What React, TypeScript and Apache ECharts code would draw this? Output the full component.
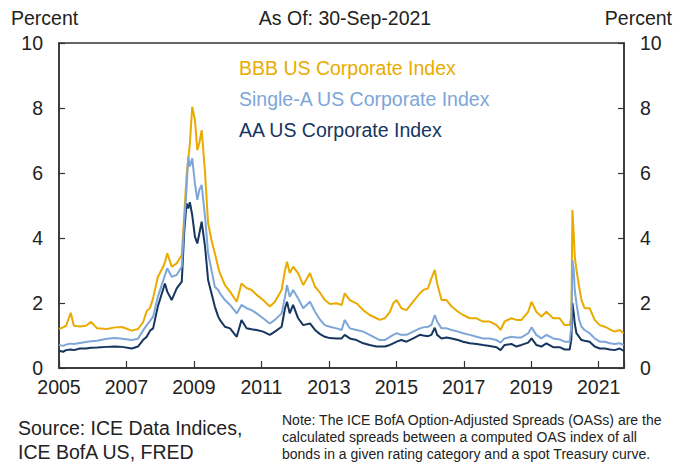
import React, { useEffect, useRef } from "react";
import * as echarts from "echarts";

const dates = [
  2005.00, 2005.12, 2005.21, 2005.35, 2005.44, 2005.62, 2005.80, 2005.95, 2006.13, 2006.42,
  2006.66, 2006.87, 2007.16, 2007.34, 2007.49, 2007.60, 2007.70, 2007.79, 2007.93, 2008.08,
  2008.14, 2008.21, 2008.34, 2008.49, 2008.64, 2008.71, 2008.78, 2008.83, 2008.88, 2008.95,
  2009.03, 2009.10, 2009.16, 2009.23, 2009.33, 2009.42, 2009.52, 2009.62, 2009.72, 2009.77,
  2009.92, 2010.07, 2010.27, 2010.41, 2010.56, 2010.71, 2010.86, 2011.05, 2011.25, 2011.40,
  2011.60, 2011.70, 2011.76, 2011.84, 2011.94, 2012.09, 2012.24, 2012.44, 2012.59, 2012.73,
  2012.88, 2013.03, 2013.23, 2013.38, 2013.47, 2013.62, 2013.82, 2014.02, 2014.21, 2014.41,
  2014.51, 2014.66, 2014.81, 2014.91, 2015.01, 2015.15, 2015.30, 2015.50, 2015.70, 2015.80,
  2015.94, 2016.04, 2016.14, 2016.21, 2016.34, 2016.49, 2016.64, 2016.83, 2016.98, 2017.18,
  2017.38, 2017.57, 2017.77, 2017.97, 2018.09, 2018.21, 2018.41, 2018.56, 2018.71, 2018.91,
  2019.01, 2019.15, 2019.30, 2019.45, 2019.65, 2019.84, 2019.99, 2020.14, 2020.19, 2020.22,
  2020.26, 2020.29, 2020.34, 2020.42, 2020.49, 2020.58, 2020.73, 2020.88, 2021.03, 2021.18,
  2021.33, 2021.47, 2021.62, 2021.74,
];

const bbb = [
  1.20, 1.25, 1.30, 1.70, 1.30, 1.28, 1.30, 1.42, 1.22, 1.20,
  1.25, 1.26, 1.15, 1.20, 1.40, 1.75, 1.85, 2.15, 2.80, 3.10,
  3.25, 3.53, 3.12, 3.22, 3.48, 4.66, 5.89, 6.40, 6.92, 8.04,
  7.63, 6.70, 6.92, 7.32, 6.00, 4.46, 3.94, 3.53, 3.10, 2.92,
  2.55, 2.35, 2.04, 2.60, 2.46, 2.40, 2.25, 2.09, 1.89, 2.04,
  2.40, 3.00, 3.27, 2.92, 3.12, 2.92, 2.55, 2.92, 2.50, 2.33,
  2.09, 1.97, 1.99, 1.94, 2.30, 2.09, 1.99, 1.78, 1.63, 1.53,
  1.48, 1.53, 1.73, 1.99, 2.09, 1.84, 1.78, 2.04, 2.30, 2.40,
  2.45, 2.76, 3.02, 2.60, 2.09, 2.09, 1.89, 1.73, 1.63, 1.53,
  1.53, 1.43, 1.43, 1.32, 1.17, 1.43, 1.53, 1.48, 1.48, 1.73,
  2.04, 1.73, 1.58, 1.73, 1.53, 1.53, 1.32, 1.32, 1.58, 4.86,
  4.14, 3.43, 3.02, 2.50, 2.09, 1.84, 1.84, 1.48, 1.32, 1.27,
  1.19, 1.12, 1.17, 1.07,
];

const singleA = [
  0.71, 0.68, 0.72, 0.75, 0.74, 0.77, 0.80, 0.82, 0.84, 0.90,
  0.92, 0.90, 0.86, 0.90, 1.15, 1.32, 1.45, 1.58, 2.19, 2.66,
  2.85, 3.07, 2.81, 2.86, 3.12, 4.45, 5.48, 6.50, 6.20, 6.45,
  5.68, 5.17, 5.48, 5.63, 4.66, 3.53, 3.02, 2.50, 2.40, 2.30,
  2.09, 1.94, 1.68, 1.94, 1.84, 1.78, 1.68, 1.53, 1.37, 1.48,
  1.68, 2.19, 2.55, 2.19, 2.40, 2.14, 1.84, 2.04, 1.73, 1.50,
  1.32, 1.27, 1.22, 1.17, 1.48, 1.22, 1.17, 1.12, 1.02, 0.91,
  0.86, 0.86, 0.96, 1.02, 1.07, 1.02, 1.02, 1.12, 1.22, 1.25,
  1.27, 1.32, 1.63, 1.43, 1.22, 1.22, 1.17, 1.12, 1.07, 1.02,
  0.96, 0.91, 0.91, 0.86, 0.78, 0.91, 0.96, 0.94, 0.94, 1.07,
  1.25, 1.02, 0.91, 1.02, 0.91, 0.88, 0.81, 0.81, 1.30, 3.32,
  3.02, 2.40, 1.99, 1.48, 1.27, 1.17, 1.07, 0.91, 0.81, 0.81,
  0.76, 0.74, 0.76, 0.71,
];

const aa = [
  0.53, 0.50, 0.55, 0.57, 0.55, 0.60, 0.60, 0.62, 0.63, 0.65,
  0.66, 0.65, 0.60, 0.66, 0.86, 0.96, 1.15, 1.22, 1.89, 2.40,
  2.60, 2.35, 2.09, 2.45, 2.66, 4.14, 5.07, 4.91, 5.10, 4.70,
  4.04, 3.83, 4.14, 4.50, 3.73, 2.71, 2.30, 1.89, 1.58, 1.48,
  1.27, 1.22, 0.96, 1.48, 1.22, 1.19, 1.17, 1.12, 1.02, 1.12,
  1.27, 1.84, 2.04, 1.68, 1.94, 1.53, 1.32, 1.37, 1.17, 1.05,
  0.96, 0.92, 0.91, 0.91, 1.02, 0.91, 0.86, 0.76, 0.71, 0.66,
  0.66, 0.66, 0.71, 0.76, 0.81, 0.86, 0.81, 0.91, 1.02, 1.00,
  0.98, 1.02, 1.24, 1.02, 0.91, 0.94, 0.91, 0.86, 0.81, 0.76,
  0.74, 0.71, 0.68, 0.64, 0.55, 0.71, 0.74, 0.66, 0.71, 0.78,
  0.91, 0.71, 0.66, 0.76, 0.64, 0.64, 0.57, 0.57, 0.90, 2.00,
  1.68, 1.37, 1.07, 0.96, 0.86, 0.84, 0.81, 0.66, 0.60, 0.60,
  0.57, 0.55, 0.60, 0.53,
];

const seriesNames = ["BBB US Corporate Index", "Single-A US Corporate Index", "AA US Corporate Index"];
const seriesColors = ["#E9AB00", "#7EA6D8", "#16365F"];
const yMin = 0;
const yMax = 10;
const yStep = 2;
const startYear = 2005;
const endYear = 2021.75;
const yearStep = 2;
const asOfText = "As Of: 30-Sep-2021";
const unitText = "Percent";
const sourceLines = ["Source: ICE Data Indices,", "ICE BofA US, FRED"];
const noteLines = [
  "Note: The ICE BofA Option-Adjusted Spreads (OASs) are the",
  "calculated spreads between a computed OAS index of all",
  "bonds in a given rating category and a spot Treasury curve.",
];

const FONT = "'Liberation Sans', Arial, Helvetica, sans-serif";
const TXT = "#222222";
const AXIS = "#333333";

export default function App() {
  const ref = useRef<HTMLDivElement>(null);
  useEffect(() => {
    const chart = echarts.init(ref.current!, null, { renderer: "svg" });
    const pts = (vals: number[]) => dates.map((d, i) => [d - startYear, vals[i]]);
    const yAxisBase = (pos: "left" | "right") => ({
      type: "value",
      position: pos,
      min: yMin,
      max: yMax,
      interval: yStep,
      axisLine: { show: true, lineStyle: { color: AXIS, width: 1.5 } },
      axisTick: { show: true, inside: true, length: 6, lineStyle: { color: AXIS, width: 1.2 } },
      axisLabel: { color: TXT, fontSize: 19.5, fontFamily: FONT, margin: 16, lineHeight: 16 },
      splitLine: { show: false },
    });
    const lineSeries = (idx: number, vals: number[], z: number) => ({
      name: seriesNames[idx],
      type: "line",
      data: pts(vals),
      showSymbol: false,
      symbol: "none",
      z,
      lineStyle: { color: seriesColors[idx], width: 2 },
      itemStyle: { color: seriesColors[idx] },
    });
    const texts: any[] = [
      { type: "text", left: 11, top: 8, style: { text: unitText, font: `19.5px ${FONT}`, fill: TXT } },
      { type: "text", right: 2, top: 8, style: { text: unitText, font: `19.5px ${FONT}`, fill: TXT } },
      { type: "text", x: 345, y: 18, style: { text: asOfText, font: `19.5px ${FONT}`, fill: TXT, align: "center", verticalAlign: "middle" } },
    ];
    seriesNames.forEach((n, i) => {
      texts.push({ type: "text", x: 239, y: 68 + i * 31, style: { text: n, font: `19.5px ${FONT}`, fill: seriesColors[i], verticalAlign: "middle" } });
    });
    sourceLines.forEach((s, i) => {
      texts.push({ type: "text", x: 18, y: 428 + i * 24, style: { text: s, font: `19.5px ${FONT}`, fill: TXT, verticalAlign: "middle" } });
    });
    noteLines.forEach((s, i) => {
      texts.push({ type: "text", x: 282, y: 420 + i * 17, style: { text: s, font: `14px ${FONT}`, fill: TXT, verticalAlign: "middle" } });
    });
    chart.setOption({
      animation: false,
      backgroundColor: "#ffffff",
      grid: { left: 59, right: 50, top: 43, bottom: 96, show: true, borderColor: AXIS, borderWidth: 1.5, backgroundColor: "transparent" },
      xAxis: {
        type: "value",
        min: 0,
        max: endYear - startYear,
        interval: yearStep,
        axisLine: { show: true, lineStyle: { color: AXIS, width: 1.5 } },
        axisTick: { show: true, inside: true, length: 7, lineStyle: { color: AXIS, width: 1.2 } },
        axisLabel: {
          color: TXT,
          fontSize: 19.5,
          fontFamily: FONT,
          margin: 11,
          lineHeight: 16,
          formatter: (v: number) => (Number.isInteger(v) ? String(v + startYear) : ""),
        },
        splitLine: { show: false },
      },
      yAxis: [yAxisBase("left"), yAxisBase("right")],
      series: [lineSeries(0, bbb, 2), lineSeries(2, aa, 3), lineSeries(1, singleA, 4)],
      graphic: texts,
    });
    return () => chart.dispose();
  }, []);
  return <div ref={ref} style={{ position: "absolute", left: 0, top: 0, width: 674, height: 464 }} />;
}
